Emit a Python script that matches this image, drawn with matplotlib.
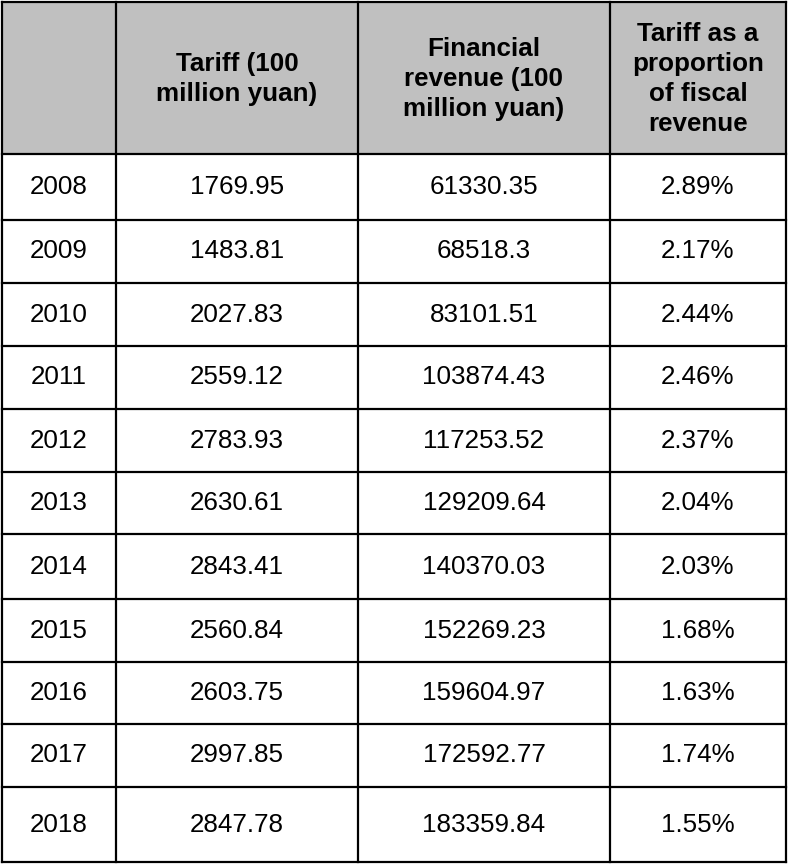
import matplotlib
matplotlib.use("Agg")
import matplotlib.pyplot as plt
from matplotlib.patches import Rectangle

headers = ["", "Tariff (100\nmillion yuan)", "Financial\nrevenue (100\nmillion yuan)",
           "Tariff as a\nproportion\nof fiscal\nrevenue"]
years = ["2008", "2009", "2010", "2011", "2012", "2013", "2014", "2015", "2016", "2017", "2018"]
tariff = ["1769.95", "1483.81", "2027.83", "2559.12", "2783.93", "2630.61", "2843.41",
          "2560.84", "2603.75", "2997.85", "2847.78"]
revenue = ["61330.35", "68518.3", "83101.51", "103874.43", "117253.52", "129209.64",
           "140370.03", "152269.23", "159604.97", "172592.77", "183359.84"]
share = ["2.89%", "2.17%", "2.44%", "2.46%", "2.37%", "2.04%", "2.03%", "1.68%",
         "1.63%", "1.74%", "1.55%"]

W, H = 788, 864
fig = plt.figure(figsize=(W / 100, H / 100), dpi=100)
ax = fig.add_axes([0, 0, 1, 1])
ax.set_xlim(0, W)
ax.set_ylim(H, 0)
ax.axis("off")

col_x = [2, 116, 358, 610, 786]
row_y = [2, 154, 220, 283, 346, 409, 472, 534, 599, 662, 724, 787, 862]
fam = ["Liberation Sans", "DejaVu Sans"]
fs = 18.7
lw = 1.6

# header background
ax.add_patch(Rectangle((col_x[0], row_y[0]), col_x[-1] - col_x[0], row_y[1] - row_y[0],
                       facecolor="#c0c0c0", edgecolor="none", zorder=0))

for j, h in enumerate(headers):
    if h:
        xc = (col_x[j] + col_x[j + 1]) / 2
        yc = (row_y[0] + row_y[1]) / 2 + 1
        ax.text(xc, yc, h, ha="center", va="center", fontsize=fs, fontweight="bold",
                family=fam, color="black", linespacing=1.3, multialignment="center")

columns = [years, tariff, revenue, share]
for i in range(len(years)):
    yc = (row_y[i + 1] + row_y[i + 2]) / 2
    for j, col in enumerate(columns):
        xc = (col_x[j] + col_x[j + 1]) / 2
        ax.text(xc, yc, col[i], ha="center", va="center", fontsize=fs,
                family=fam, color="black")

for x in col_x:
    ax.plot([x, x], [row_y[0], row_y[-1]], color="black", lw=lw, solid_capstyle="projecting")
for y in row_y:
    ax.plot([col_x[0], col_x[-1]], [y, y], color="black", lw=lw, solid_capstyle="projecting")

fig.savefig("out.png", dpi=100)
